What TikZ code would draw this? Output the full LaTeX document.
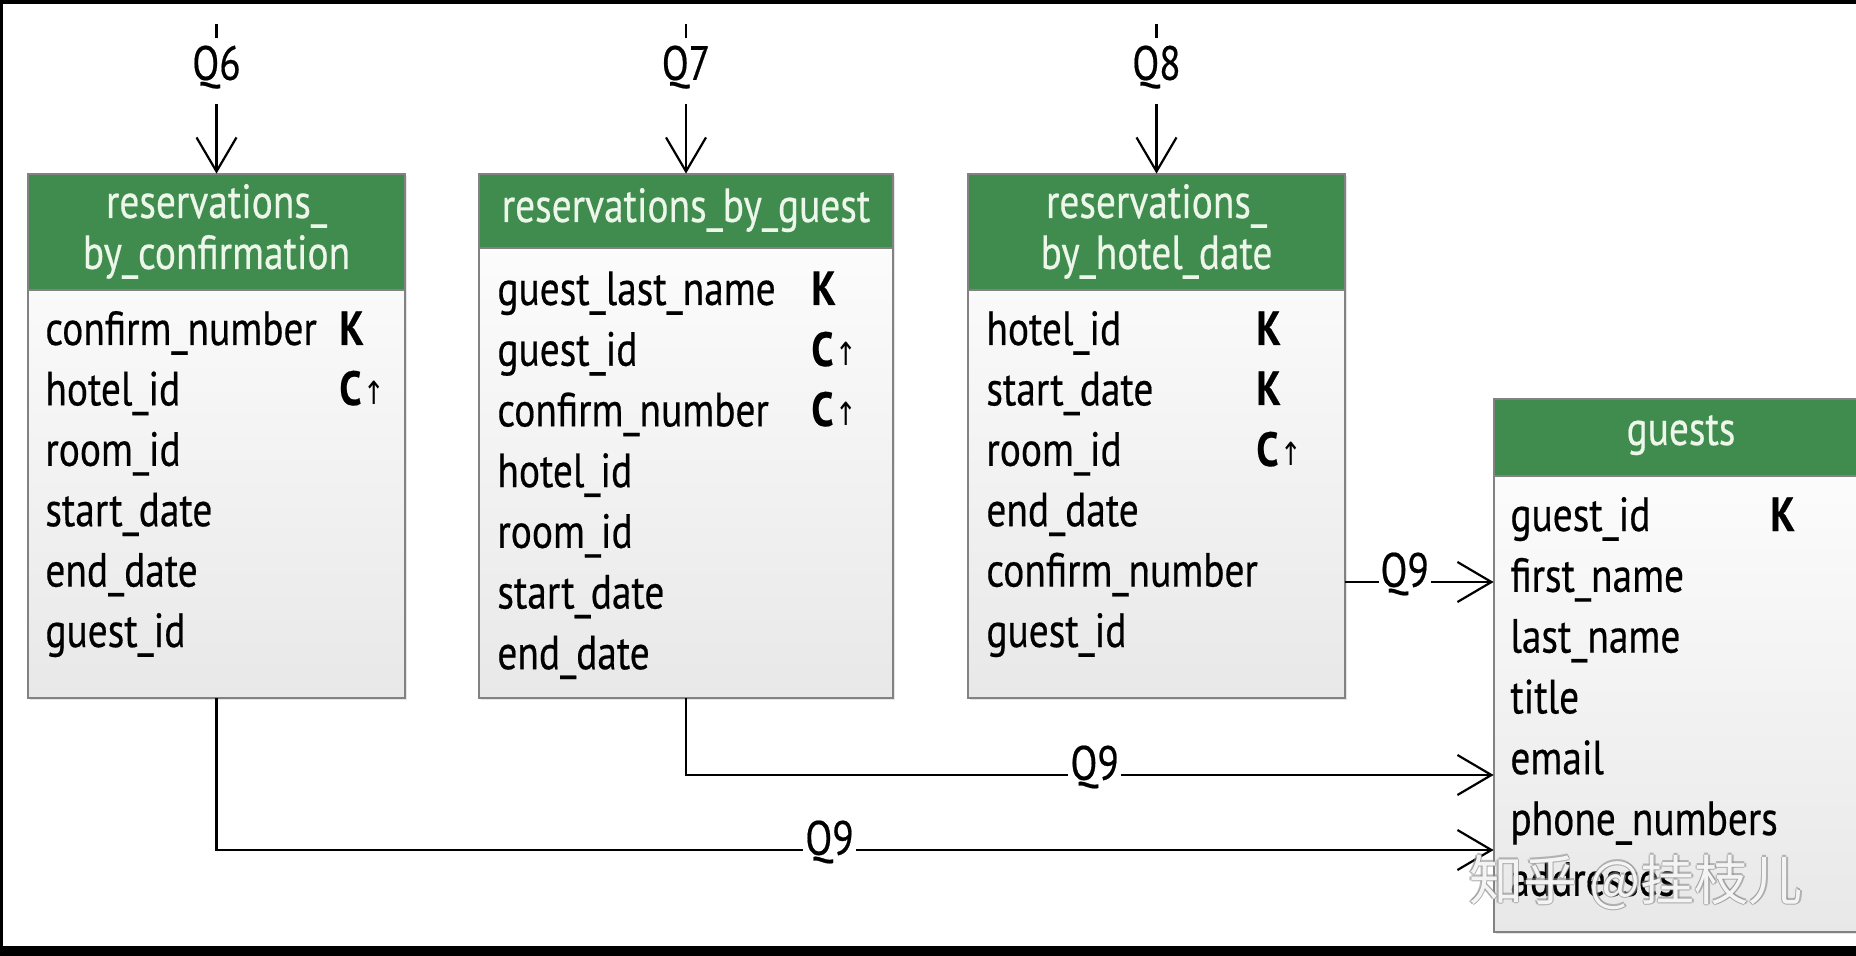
\documentclass[tikz,border=0pt]{standalone}
\usepackage{fontspec}
\setmainfont{PT Sans}[FakeStretch=0.82,FakeBold=0.4]
\newfontfamily\symf{DejaVu Sans}[FakeStretch=0.8]
\newfontfamily\cjk{Noto Sans CJK SC}
\usetikzlibrary{arrows.meta,fit,shadows}
\definecolor{hdrgreen}{RGB}{64,139,78}
\definecolor{hdrtext}{RGB}{236,247,234}
\definecolor{boxline}{RGB}{130,130,130}
\newcommand{\cuparrow}{\textbf{C}\hspace{1pt}{\symf\mdseries\fontsize{16}{16}\selectfont ↑}}
\begin{document}
\begin{tikzpicture}[x=0.5pt,y=-0.5pt,
  tbl/.style={inner sep=0pt, top color=white, bottom color=black!9, drop shadow={opacity=0.2,shadow xshift=1pt,shadow yshift=-1pt}},
  hdr/.style={fill=hdrgreen},
  frame/.style={draw=boxline, line width=1pt},
  htext/.style={anchor=base, inner sep=0pt, text=hdrtext, font=\fontsize{24}{28}\selectfont},
  fld/.style={anchor=base west, inner sep=0pt, font=\fontsize{24}{28}\selectfont},
  keyc/.style={anchor=base west, inner sep=0pt, font=\bfseries\fontsize{24}{28}\selectfont},
  conn/.style={line width=1.1pt, -{Straight Barb[length=17pt,width=20pt,line width=1.1pt]}},
  qtop/.style={fill=white, inner xsep=2pt, inner ysep=5.5pt, text height=15.5pt, text depth=6.5pt, font=\fontsize{24}{28}\selectfont},
  qlab/.style={fill=white, inner xsep=1pt, inner ysep=0.5pt, yshift=4pt, font=\fontsize{24}{28}\selectfont},
  wm/.style={inner sep=0pt, font=\cjk\fontsize{27}{30}\selectfont}
]
\useasboundingbox (0,0) rectangle (1856,956);
\fill[black] (0,0) rectangle (1856,956);
\fill[white] (3,4) rectangle (1856,946);
\clip (3,4) rectangle (1856,946);

% ---------- tables ----------
\node[tbl, fit={(28,174) (405,698)}] (t1) {};
\fill[hdr] (t1.north west) rectangle (t1.east |- 0,290);
\draw[frame] (t1.west |- 0,290) -- (t1.east |- 0,290);
\draw[frame] (t1.south west) rectangle (t1.north east);

\node[tbl, fit={(479,174) (893,698)}] (t2) {};
\fill[hdr] (t2.north west) rectangle (t2.east |- 0,248);
\draw[frame] (t2.west |- 0,248) -- (t2.east |- 0,248);
\draw[frame] (t2.south west) rectangle (t2.north east);

\node[tbl, fit={(968,174) (1345,698)}] (t3) {};
\fill[hdr] (t3.north west) rectangle (t3.east |- 0,290);
\draw[frame] (t3.west |- 0,290) -- (t3.east |- 0,290);
\draw[frame] (t3.south west) rectangle (t3.north east);

\node[tbl, fit={(1494,399) (1868,932)}] (t4) {};
\fill[hdr] (t4.north west) rectangle (t4.east |- 0,476);
\draw[frame] (t4.west |- 0,476) -- (t4.east |- 0,476);
\draw[frame] (t4.south west) rectangle (t4.north east);

% ---------- headers ----------
\node[htext] (h1a) at (216.5,218) {reservations\_};
\node[htext] (h1b) at (216.5,269) {by\_confirmation};
\node[htext] (h2) at (686,222) {reservations\_by\_guest};
\node[htext] (h3a) at (1156.5,218) {reservations\_};
\node[htext] (h3b) at (1156.5,269) {by\_hotel\_date};
\node[htext] (h4) at (1681,445) {guests};

% ---------- fields ----------
\foreach \t [count=\i] in {confirm\_number,hotel\_id,room\_id,start\_date,end\_date,guest\_id}
  \node[fld] (a\i) at (45,{345+60.4*(\i-1)}) {\t};
\node[keyc] (ka1) at (339,345) {K};
\node[keyc] (ka2) at (339,405) {\cuparrow};

\foreach \t [count=\i] in {guest\_last\_name,guest\_id,confirm\_number,hotel\_id,room\_id,start\_date,end\_date}
  \node[fld] (b\i) at (497,{305+60.7*(\i-1)}) {\t};
\node[keyc] (kb1) at (811,305) {K};
\node[keyc] (kb2) at (811,366) {\cuparrow};
\node[keyc] (kb3) at (811,426) {\cuparrow};

\foreach \t [count=\i] in {hotel\_id,start\_date,room\_id,end\_date,confirm\_number,guest\_id}
  \node[fld] (c\i) at (986,{345+60.4*(\i-1)}) {\t};
\node[keyc] (kc1) at (1256,345) {K};
\node[keyc] (kc2) at (1256,405) {K};
\node[keyc] (kc3) at (1256,466) {\cuparrow};

\foreach \t [count=\i] in {guest\_id,first\_name,last\_name,title,email,phone\_numbers,addresses}
  \node[fld] (d\i) at (1510,{531+60.8*(\i-1)}) {\t};
\node[keyc] (kd1) at (1770,531) {K};

% ---------- connectors ----------
\coordinate (s6) at (t1.north |- 0,24);
\coordinate (s7) at (t2.north |- 0,24);
\coordinate (s8) at (t3.north |- 0,24);
\draw[conn] (s6) -- node[qtop,pos=.313] (q6) {Q6} (t1.north);
\draw[conn] (s7) -- node[qtop,pos=.313] (q7) {Q7} (t2.north);
\draw[conn] (s8) -- node[qtop,pos=.313] (q8) {Q8} (t3.north);

\coordinate (g1) at (t4.west |- 0,582);
\coordinate (g2) at (t4.west |- 0,775);
\coordinate (g3) at (t4.west |- 0,850);
\draw[conn] (t3.east |- g1) -- node[qlab,pos=.40] (q9a) {Q9} (g1);
\draw[conn] (t2.south) |- node[qlab,pos=.753] (q9b) {Q9} (g2);
\draw[conn] (t1.south) |- node[qlab,pos=.74] (q9c) {Q9} (g3);

% ---------- watermark ----------
\foreach \dx/\dy [count=\k] in {1.5/0,-1.5/0,0/1.5,0/-1.5}
  \node[wm, text=black!45, opacity=.6] (wms\k) at ({1636+\dx},{882+\dy}) {知乎 @挂枝儿};
\node[wm, text=white, opacity=.9] (wmk) at (1636,882) {知乎 @挂枝儿};
\end{tikzpicture}
\end{document}
